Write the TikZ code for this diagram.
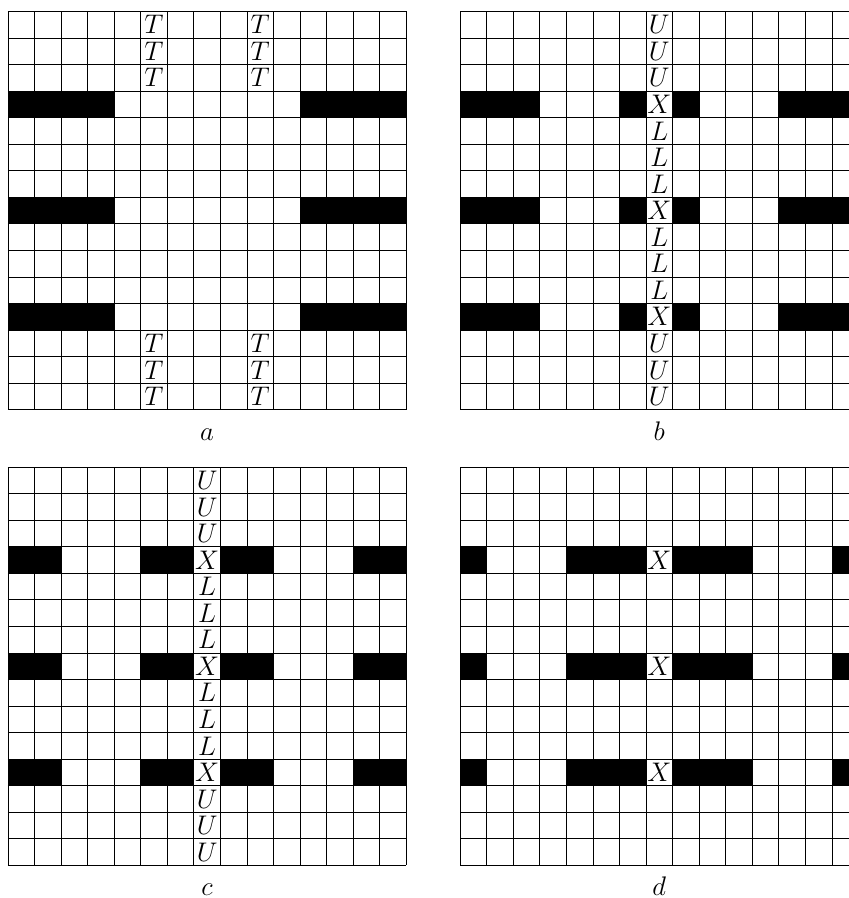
\documentclass[tikz,border=0pt]{standalone}
\usetikzlibrary{positioning}

\begin{document}
\begin{tikzpicture}[
    x=0.5cm, y=0.5cm,
    gridline/.style={line width=0.4pt, draw=black},
    blackcell/.style={fill=black},
    letter/.style={font=\fontsize{15}{18}\selectfont, inner sep=0pt},
    caption/.style={font=\fontsize{15}{18}\selectfont, anchor=base, inner sep=0pt}
]
\useasboundingbox (0,0) rectangle (31.94,33.82);

% --- Grid a: T marks ---
\begin{scope}[shift={(0.30,33.39)}]
  \foreach \r in {3,7,11} {
    \fill[blackcell] (0,-\r) rectangle (4,-\r-1);
    \fill[blackcell] (11,-\r) rectangle (15,-\r-1);
  }
  \foreach \i in {0,...,15} {
    \draw[gridline] (\i,0) -- (\i,-15);
    \draw[gridline] (0,-\i) -- (15,-\i);
  }
  \foreach \r in {0,1,2,12,13,14} {
    \node[letter] (aT5-\r) at (5.5,-\r-0.5) {$T$};
    \node[letter] (aT9-\r) at (9.5,-\r-0.5) {$T$};
  }
  \node[caption] (capA) at (7.5,-16.15) {$a$};
\end{scope}

% --- Grid b: one column, walls of width one ---
\begin{scope}[shift={(17.33,33.39)}]
  \foreach \r in {3,7,11} {
    \fill[blackcell] (0,-\r) rectangle (3,-\r-1);
    \fill[blackcell] (6,-\r) rectangle (7,-\r-1);
    \fill[blackcell] (8,-\r) rectangle (9,-\r-1);
    \fill[blackcell] (12,-\r) rectangle (15,-\r-1);
  }
  \foreach \i in {0,...,15} {
    \draw[gridline] (\i,0) -- (\i,-15);
    \draw[gridline] (0,-\i) -- (15,-\i);
  }
  \foreach \r/\t in {0/U,1/U,2/U,3/X,4/L,5/L,6/L,7/X,8/L,9/L,10/L,11/X,12/U,13/U,14/U} {
    \node[letter] (b\t-\r) at (7.5,-\r-0.5) {$\t$};
  }
  \node[caption] (capB) at (7.5,-16.15) {$b$};
\end{scope}

% --- Grid c: one column, walls of width two ---
\begin{scope}[shift={(0.30,16.23)}]
  \foreach \r in {3,7,11} {
    \fill[blackcell] (0,-\r) rectangle (2,-\r-1);
    \fill[blackcell] (5,-\r) rectangle (7,-\r-1);
    \fill[blackcell] (8,-\r) rectangle (10,-\r-1);
    \fill[blackcell] (13,-\r) rectangle (15,-\r-1);
  }
  \foreach \i in {0,...,15} {
    \draw[gridline] (\i,0) -- (\i,-15);
    \draw[gridline] (0,-\i) -- (15,-\i);
  }
  \foreach \r/\t in {0/U,1/U,2/U,3/X,4/L,5/L,6/L,7/X,8/L,9/L,10/L,11/X,12/U,13/U,14/U} {
    \node[letter] (c\t-\r) at (7.5,-\r-0.5) {$\t$};
  }
  \node[caption] (capC) at (7.5,-16.15) {$c$};
\end{scope}

% --- Grid d: only the crossings ---
\begin{scope}[shift={(17.33,16.23)}]
  \foreach \r in {3,7,11} {
    \fill[blackcell] (0,-\r) rectangle (1,-\r-1);
    \fill[blackcell] (4,-\r) rectangle (7,-\r-1);
    \fill[blackcell] (8,-\r) rectangle (11,-\r-1);
    \fill[blackcell] (14,-\r) rectangle (15,-\r-1);
  }
  \foreach \i in {0,...,15} {
    \draw[gridline] (\i,0) -- (\i,-15);
    \draw[gridline] (0,-\i) -- (15,-\i);
  }
  \foreach \r in {3,7,11} {
    \node[letter] (dX-\r) at (7.5,-\r-0.5) {$X$};
  }
  \node[caption] (capD) at (7.5,-16.15) {$d$};
\end{scope}

\end{tikzpicture}
\end{document}
